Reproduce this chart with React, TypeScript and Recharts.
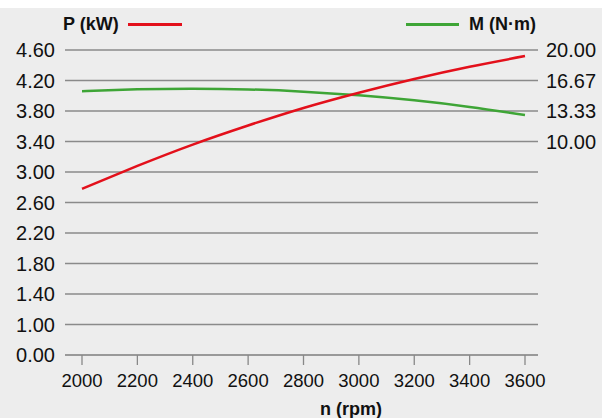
import React from 'react';
import { LineChart, Line, XAxis, YAxis, CartesianGrid } from 'recharts';

// speed in rpm
const rpm = [2000, 2200, 2400, 2600, 2800, 3000, 3200, 3400, 3600];
// power P (kW), left axis
const power = [2.78, 3.08, 3.36, 3.61, 3.84, 4.04, 4.22, 4.38, 4.52];
// torque M (N·m), right axis
const torque = [15.5, 15.7, 15.77, 15.69, 15.45, 15.05, 14.5, 13.78, 12.89];

const xTicks = [2000, 2200, 2400, 2600, 2800, 3000, 3200, 3400, 3600];
// left axis is broken below 1.00: the lowest step is labelled 0.00
const leftTicks = [0.6, 1.0, 1.4, 1.8, 2.2, 2.6, 3.0, 3.4, 3.8, 4.2, 4.6];
const rightTicks = [10, 13.3333, 16.6667, 20];

const RED = '#e3101b';
const GREEN = '#3ea536';
const GRID = '#8a8a8a';
const FONT = '"Liberation Sans", Arial, Helvetica, sans-serif';

const data = rpm.map((n, i) => ({ n, p: power[i], m: torque[i] }));

const App: React.FC = () => {
  return (
    <div style={{ position: 'absolute', left: 0, top: 0, width: 602, height: 418, background: '#fff', fontFamily: FONT }}>
      <div style={{ position: 'absolute', left: 0, top: 8, width: 602, height: 410, background: '#ededed' }} />

      {/* legend */}
      <div style={{ position: 'absolute', left: 63, top: 13, fontSize: 18, fontWeight: 'bold', color: '#111', lineHeight: '22px' }}>
        P (kW)
      </div>
      <div style={{ position: 'absolute', left: 128, top: 23, width: 54, height: 2.5, background: RED }} />
      <div style={{ position: 'absolute', left: 406, top: 23, width: 53, height: 2.5, background: GREEN }} />
      <div style={{ position: 'absolute', left: 469, top: 13, fontSize: 18, fontWeight: 'bold', color: '#111', lineHeight: '22px' }}>
        M (N·m)
      </div>

      <div style={{ position: 'absolute', left: 0, top: 0 }}>
        <LineChart width={602} height={418} data={data} margin={{ top: 50, right: 0, bottom: 0, left: 0 }}>
          <CartesianGrid yAxisId="left" vertical={false} horizontal stroke={GRID} strokeWidth={1.3} horizontalValues={leftTicks} />
          <XAxis
            dataKey="n"
            type="number"
            domain={[2000, 3600]}
            ticks={xTicks}
            padding={{ left: 17, right: 13 }}
            height={63}
            axisLine={{ stroke: '#999', strokeWidth: 2 }}
            tickLine={{ stroke: '#888', strokeWidth: 1.3 }}
            tickSize={10}
            tickMargin={9}
            tick={{ fill: '#111', fontSize: 18.5, fontFamily: FONT }}
          />
          <YAxis
            yAxisId="left"
            type="number"
            domain={[0.6, 4.6]}
            ticks={leftTicks}
            width={65}
            axisLine={false}
            tickLine={false}
            tickMargin={4}
            interval={0}
            tick={{ fill: '#111', fontSize: 20, fontFamily: FONT }}
            tickFormatter={(v: number) => (v < 1 ? '0.00' : v.toFixed(2))}
          />
          <YAxis
            yAxisId="right"
            orientation="right"
            type="number"
            domain={[-13.3333, 20]}
            ticks={rightTicks}
            width={64}
            axisLine={false}
            tickLine={false}
            tickMargin={2}
            interval={0}
            tick={{ fill: '#111', fontSize: 20, fontFamily: FONT, textAnchor: 'start' }}
            tickFormatter={(v: number) => v.toFixed(2)}
          />
          <Line yAxisId="right" type="natural" dataKey="m" stroke={GREEN} strokeWidth={2.5} dot={false} isAnimationActive={false} />
          <Line yAxisId="left" type="natural" dataKey="p" stroke={RED} strokeWidth={2.5} dot={false} isAnimationActive={false} />
        </LineChart>
      </div>

      <div style={{ position: 'absolute', left: 320, top: 398, fontSize: 18, fontWeight: 'bold', color: '#111', lineHeight: '22px' }}>
        n (rpm)
      </div>
    </div>
  );
};

export default App;
